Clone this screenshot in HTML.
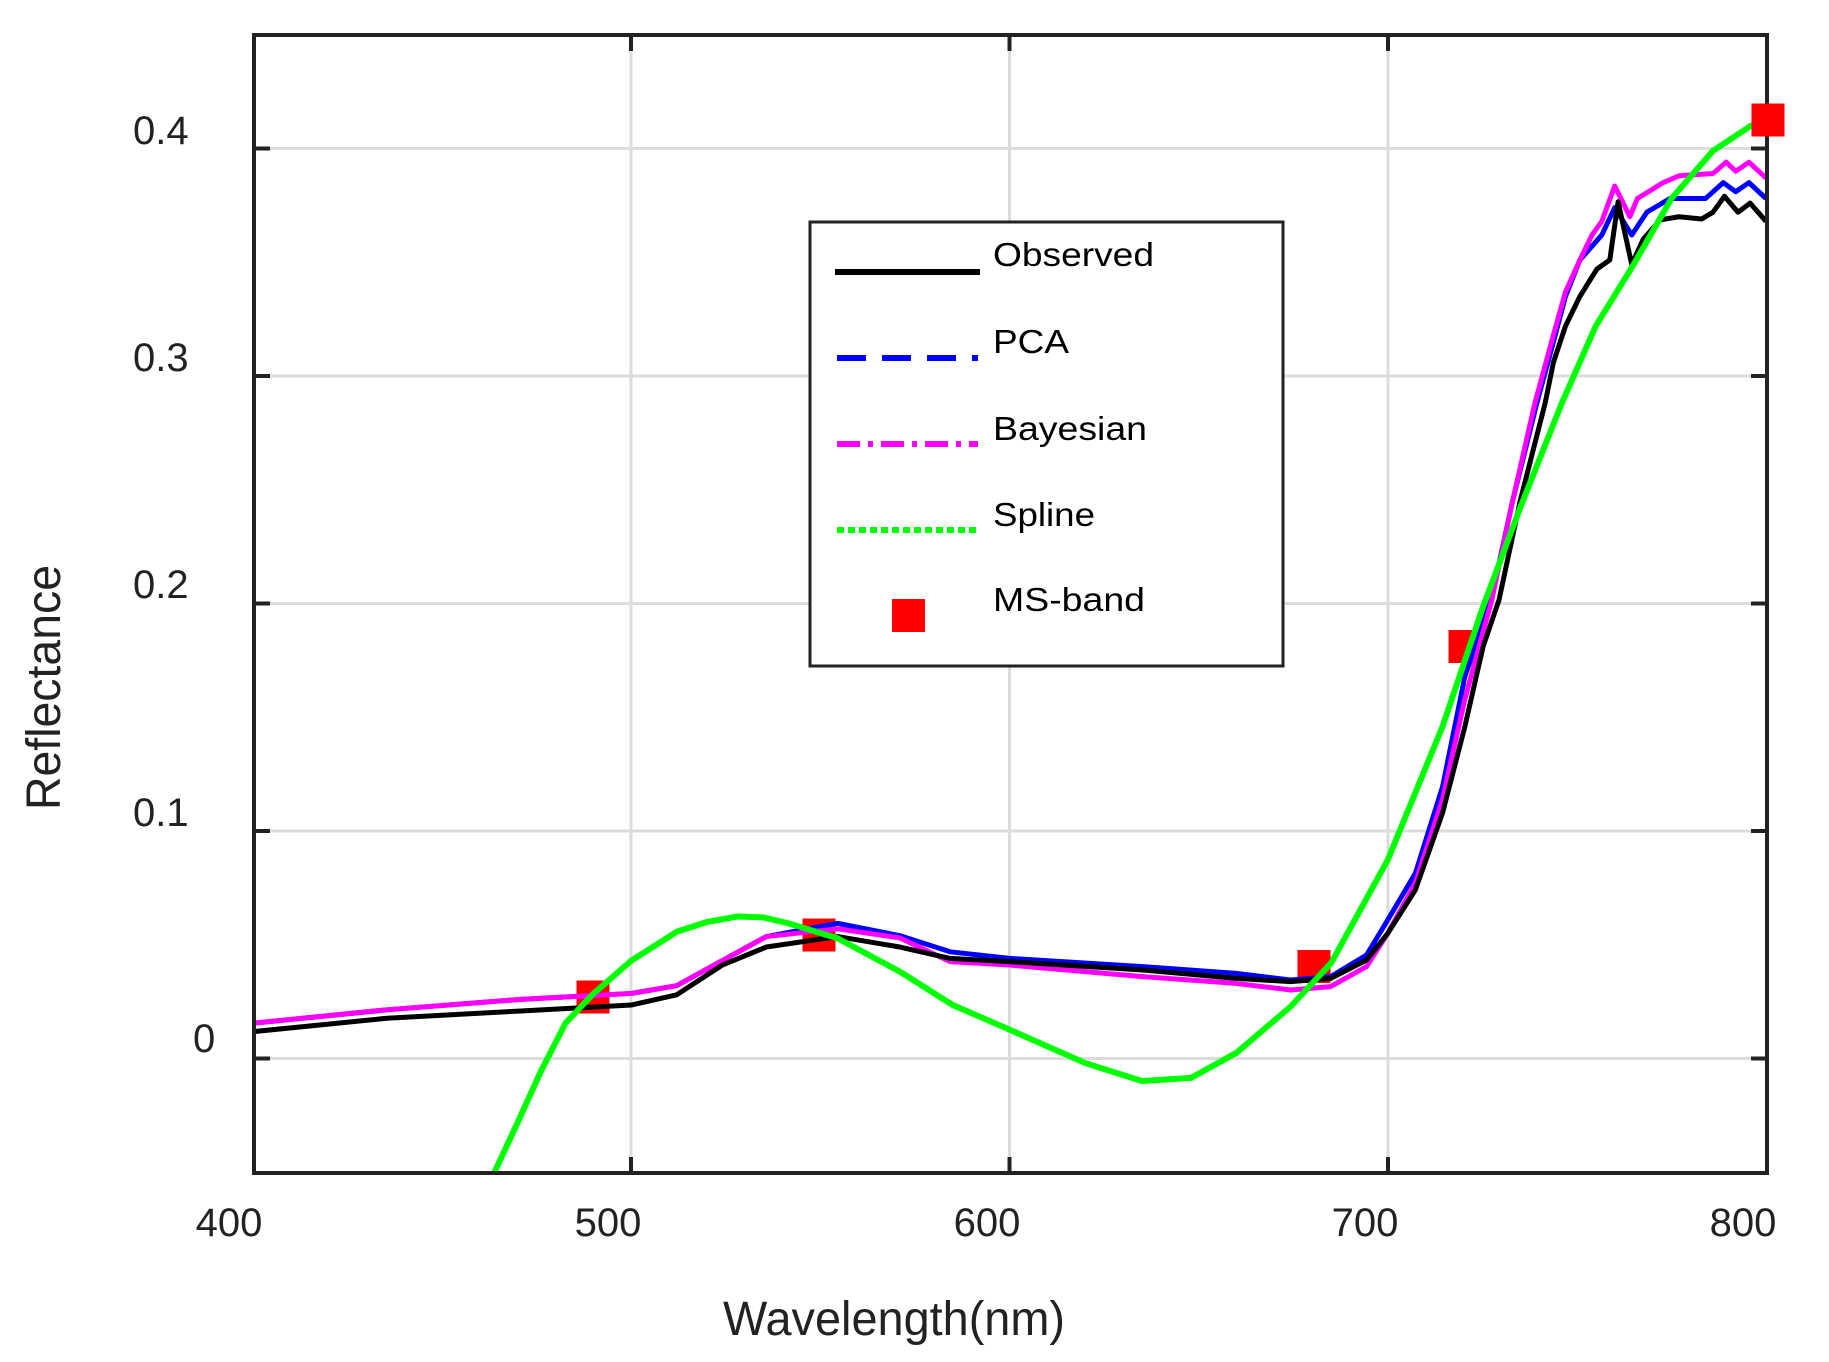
<!DOCTYPE html>
<html><head><meta charset="utf-8"><style>html,body{margin:0;padding:0;background:#fff}svg{display:block}</style></head>
<body>
<svg width="1829" height="1362" viewBox="0 0 1829 1362" xmlns="http://www.w3.org/2000/svg" font-family="'Liberation Sans', Arial, sans-serif">
<defs><clipPath id="ax"><rect x="254" y="35" width="1513" height="1138"/></clipPath></defs>
<rect width="1829" height="1362" fill="#fff"/>
<g stroke="#dcdcdc" stroke-width="3">
<line x1="631" y1="35" x2="631" y2="1173"/><line x1="1009.5" y1="35" x2="1009.5" y2="1173"/><line x1="1388" y1="35" x2="1388" y2="1173"/>
<line x1="254" y1="148.5" x2="1767" y2="148.5"/><line x1="254" y1="376" x2="1767" y2="376"/><line x1="254" y1="603.5" x2="1767" y2="603.5"/><line x1="254" y1="831" x2="1767" y2="831"/><line x1="254" y1="1058.5" x2="1767" y2="1058.5"/>
</g>
<g fill="#ff0000">
<rect x="576.5" y="980.5" width="33" height="33"/>
<rect x="802.5" y="918.5" width="33" height="33"/>
<rect x="1297.5" y="950" width="33" height="33"/>
<rect x="1448.5" y="630" width="33" height="33"/>
</g>
<g clip-path="url(#ax)">
<g transform="matrix(3.7825,0,0,-2275,-1260,1058.5)" fill="none" stroke-linejoin="round">
<polyline vector-effect="non-scaling-stroke" stroke="#0000ff" stroke-width="5" points="400,0.0155 435.4,0.0214 470.8,0.026 500,0.0286 512,0.032 524,0.043 535.7,0.0536 554.6,0.0594 571,0.054 584.3,0.0469 600,0.044 635.2,0.0404 659.9,0.0374 674.3,0.0345 684.9,0.036 694.4,0.0455 700,0.0609 707.3,0.0814 714.5,0.1195 720.4,0.168 727.3,0.2015 733,0.245 739.4,0.288 743.8,0.315 747,0.335 750.8,0.351 756.6,0.362 760,0.374 764.5,0.362 768.5,0.372 774.6,0.378 784,0.378 788.7,0.385 792,0.381 795.5,0.385 800,0.378"/>
<polyline vector-effect="non-scaling-stroke" stroke="#ff00ff" stroke-width="5" points="400,0.0155 435.4,0.0214 470.8,0.026 500,0.0286 512,0.032 524,0.043 535.7,0.0536 554.6,0.057 571,0.053 584.3,0.0426 600,0.0411 635.2,0.036 659.9,0.033 674.3,0.0301 684.9,0.0316 694.4,0.0404 700,0.055 707.3,0.0771 714.5,0.114 720.4,0.158 727.5,0.2015 733,0.245 738.9,0.288 743.8,0.318 747,0.337 750.8,0.351 754,0.362 756.6,0.368 760,0.3835 764,0.370 766,0.378 772.8,0.385 777,0.388 786,0.389 789.5,0.394 792,0.390 795.5,0.394 800,0.387"/>
<polyline vector-effect="non-scaling-stroke" stroke="#000000" stroke-width="5" points="400,0.0118 435.4,0.0177 470.8,0.0209 500,0.0235 512,0.028 524,0.041 535.7,0.049 554.6,0.0536 571,0.049 584.3,0.044 600,0.0426 635.2,0.0389 659.9,0.0352 674.3,0.0338 684.9,0.0352 694.4,0.0433 700,0.055 707.3,0.0741 714.5,0.108 720.4,0.146 725.2,0.181 729.4,0.2015 735,0.245 741.6,0.288 743.8,0.306 747,0.322 750.8,0.335 755.3,0.347 758.7,0.351 760.9,0.3766 764.5,0.349 767.5,0.360 772,0.3686 777,0.370 783,0.369 786,0.372 789,0.379 792.6,0.372 795.8,0.376 800,0.368"/>
<polyline vector-effect="non-scaling-stroke" stroke="#00ff00" stroke-width="6" points="463.7,-0.0505 470,-0.028 476,-0.006 482.6,0.0155 489.7,0.028 500,0.043 512,0.0557 520,0.060 528,0.0624 535,0.062 541.6,0.0594 554.6,0.0528 571,0.0382 585,0.0235 600,0.0127 620,-0.002 635,-0.0099 648,-0.0085 660,0.0025 674.3,0.0228 685,0.0419 700,0.0873 714.5,0.146 725.2,0.1986 735,0.242 746,0.288 755,0.322 765,0.349 775,0.378 786,0.399 796,0.41 800,0.412"/>
</g>
</g>
<rect x="254" y="35" width="1513" height="1138" fill="none" stroke="#222" stroke-width="4"/>
<rect x="1751.5" y="103.5" width="33" height="33" fill="#ff0000"/>
<g stroke="#222" stroke-width="4">
<line x1="631" y1="1173" x2="631" y2="1157"/><line x1="1009.5" y1="1173" x2="1009.5" y2="1157"/><line x1="1388" y1="1173" x2="1388" y2="1157"/>
<line x1="631" y1="35" x2="631" y2="51"/><line x1="1009.5" y1="35" x2="1009.5" y2="51"/><line x1="1388" y1="35" x2="1388" y2="51"/>
<line x1="254" y1="148.5" x2="270" y2="148.5"/><line x1="254" y1="376" x2="270" y2="376"/><line x1="254" y1="603.5" x2="270" y2="603.5"/><line x1="254" y1="831" x2="270" y2="831"/><line x1="254" y1="1058.5" x2="270" y2="1058.5"/>
<line x1="1767" y1="148.5" x2="1751" y2="148.5"/><line x1="1767" y1="376" x2="1751" y2="376"/><line x1="1767" y1="603.5" x2="1751" y2="603.5"/><line x1="1767" y1="831" x2="1751" y2="831"/><line x1="1767" y1="1058.5" x2="1751" y2="1058.5"/>
</g>
<g fill="#222" font-size="40">
<text x="229" y="1236" text-anchor="middle">400</text>
<text x="608" y="1236" text-anchor="middle">500</text>
<text x="987" y="1236" text-anchor="middle">600</text>
<text x="1365" y="1236" text-anchor="middle">700</text>
<text x="1743" y="1236" text-anchor="middle">800</text>
<text x="133" y="144">0.4</text>
<text x="133" y="371">0.3</text>
<text x="133" y="598">0.2</text>
<text x="133" y="826">0.1</text>
<text x="193" y="1052">0</text>
</g>
<text x="723" y="1335" font-size="48" fill="#222" textLength="342" lengthAdjust="spacingAndGlyphs">Wavelength(nm)</text>
<text transform="translate(60,810) rotate(-90)" font-size="48" fill="#222" textLength="245" lengthAdjust="spacingAndGlyphs">Reflectance</text>
<rect x="810" y="222" width="473" height="444" fill="#fff" stroke="#222" stroke-width="3"/>
<g stroke-width="6" fill="none">
<line x1="835" y1="272" x2="980" y2="272" stroke="#000"/>
<line x1="837" y1="358" x2="978" y2="358" stroke="#0000ff" stroke-dasharray="29,16"/>
<line x1="837" y1="444" x2="978" y2="444" stroke="#ff00ff" stroke-dasharray="23,8,5,8"/>
<line x1="837" y1="530" x2="978" y2="530" stroke="#00ff00" stroke-dasharray="7,4"/>
</g>
<rect x="892" y="599" width="33" height="33" fill="#ff0000"/>
<g fill="#000" font-size="33">
<text x="993" y="266" textLength="161" lengthAdjust="spacingAndGlyphs">Observed</text>
<text x="993" y="353" textLength="76" lengthAdjust="spacingAndGlyphs">PCA</text>
<text x="993" y="440" textLength="154" lengthAdjust="spacingAndGlyphs">Bayesian</text>
<text x="993" y="526" textLength="102" lengthAdjust="spacingAndGlyphs">Spline</text>
<text x="993" y="611" textLength="152" lengthAdjust="spacingAndGlyphs">MS-band</text>
</g>
</svg>
</body></html>
